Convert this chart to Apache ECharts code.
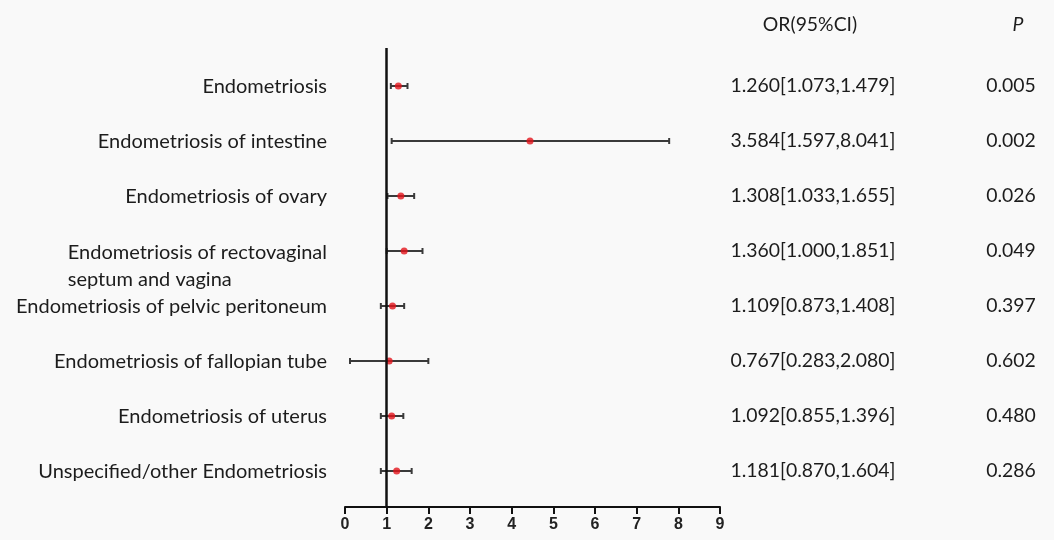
<!DOCTYPE html>
<html><head><meta charset="utf-8">
<script src="https://cdn.jsdelivr.net/npm/echarts@6/dist/echarts.min.js"></script>
<style>html,body{margin:0;padding:0;background:#f9f9f9}#c{width:1054px;height:540px}</style>
</head><body><div id="c"></div>
<script>
const categories = [
  'Endometriosis',
  'Endometriosis of intestine',
  'Endometriosis of ovary',
  'Endometriosis of rectovaginal\nseptum and vagina',
  'Endometriosis of pelvic peritoneum',
  'Endometriosis of fallopian tube',
  'Endometriosis of uterus',
  'Unspecified/other Endometriosis'
];
// values as drawn in the plot
const orPoint = [1.28, 4.44, 1.34, 1.42, 1.14, 1.06, 1.12, 1.24];
const ciLow   = [1.10, 1.12, 1.02, 1.00, 0.86, 0.12, 0.86, 0.86];
const ciHigh  = [1.50, 7.78, 1.66, 1.86, 1.42, 2.00, 1.40, 1.60];
const orText = [
  '1.260[1.073,1.479]', '3.584[1.597,8.041]', '1.308[1.033,1.655]', '1.360[1.000,1.851]',
  '1.109[0.873,1.408]', '0.767[0.283,2.080]', '1.092[0.855,1.396]', '1.181[0.870,1.604]'
];
const pText = ['0.005', '0.002', '0.026', '0.049', '0.397', '0.602', '0.480', '0.286'];
const xTickMin = 0, xTickMax = 9, xTickStep = 1;
const headerOR = 'OR(95%CI)';
const headerP = 'P';

const FONT = 'Lato, "Open Sans", sans-serif';
const LSIZE = 20;
const TSIZE = 19.4;
const TXT = '#1c1c1c';

const chart = echarts.init(document.getElementById('c'));

function measure(t, font) {
  const el = new echarts.graphic.Text({style: {text: t, font: font}});
  return el.getBoundingRect().width;
}

const option = {
  backgroundColor: '#f9f9f9',
  animation: false,
  grid: {left: 345, right: 334, top: 48, bottom: 33},
  xAxis: {
    type: 'value', min: xTickMin, max: xTickMax, interval: xTickStep,
    splitLine: {show: false},
    axisLine: {show: true, onZero: false, lineStyle: {color: '#111', width: 2}},
    axisTick: {show: true, length: 7, lineStyle: {color: '#111', width: 2}},
    axisLabel: {color: '#222', fontWeight: 'bold', fontSize: 16, margin: 10,
      fontFamily: '"Liberation Sans Narrow", "Liberation Sans", Arial, sans-serif'}
  },
  yAxis: {type: 'value', inverse: true, min: -0.691, max: 7.655, show: false},
  graphic: [
    {type: 'text', x: 810, y: 25, style: {text: headerOR, font: TSIZE + 'px ' + FONT, fill: TXT, align: 'center', verticalAlign: 'middle'}},
    {type: 'text', x: 1018, y: 25, style: {text: headerP, font: 'italic ' + TSIZE + 'px ' + FONT, fill: TXT, align: 'center', verticalAlign: 'middle'}}
  ],
  series: [
    {
      type: 'custom',
      z: 2,
      data: categories.map((c, i) => [ciLow[i], ciHigh[i], i]),
      encode: {x: [0, 1], y: 2},
      renderItem: function (params, api) {
        const i = api.value(2);
        const p1 = api.coord([api.value(0), i]);
        const p2 = api.coord([api.value(1), i]);
        const st = {stroke: '#3a3a3a', lineWidth: 2};
        return {type: 'group', children: [
          {type: 'line', shape: {x1: p1[0], y1: p1[1], x2: p2[0], y2: p2[1]}, style: st},
          {type: 'line', shape: {x1: p1[0], y1: p1[1] - 3, x2: p1[0], y2: p1[1] + 3}, style: st},
          {type: 'line', shape: {x1: p2[0], y1: p2[1] - 3, x2: p2[0], y2: p2[1] + 3}, style: st}
        ]};
      }
    },
    {
      type: 'scatter',
      z: 4,
      symbolSize: 7,
      itemStyle: {color: '#e3141c'},
      data: orPoint.map((v, i) => [v, i]),
      markLine: {
        silent: true, symbol: 'none', label: {show: false},
        lineStyle: {color: '#111', width: 2.5, type: 'solid'},
        data: [{xAxis: 1}]
      }
    },
    {
      type: 'custom',
      z: 5,
      clip: false,
      silent: true,
      data: categories.map((c, i) => [0, i]),
      encode: {x: 0, y: 1},
      renderItem: function (params, api) {
        const i = api.value(1);
        const p = api.coord([0, i]);
        const y = p[1];
        const xr = p[0] - 18;
        const lfont = LSIZE + 'px ' + FONT;
        const tfont = TSIZE + 'px ' + FONT;
        const kids = [];
        const lab = categories[i];
        if (lab.indexOf('\n') >= 0) {
          const parts = lab.split('\n');
          const w = measure(parts[0], lfont);
          kids.push({type: 'text', x: xr, y: y + 2, style: {text: parts[0], font: lfont, fill: TXT, align: 'right', verticalAlign: 'middle'}});
          kids.push({type: 'text', x: xr - w, y: y + 29, style: {text: parts[1], font: lfont, fill: TXT, align: 'left', verticalAlign: 'middle'}});
        } else {
          kids.push({type: 'text', x: xr, y: y + 1, style: {text: lab, font: lfont, fill: TXT, align: 'right', verticalAlign: 'middle'}});
        }
        kids.push({type: 'text', x: 813, y: y, style: {text: orText[i], font: tfont, fill: TXT, align: 'center', verticalAlign: 'middle'}});
        kids.push({type: 'text', x: 1011, y: y, style: {text: pText[i], font: tfont, fill: TXT, align: 'center', verticalAlign: 'middle'}});
        return {type: 'group', children: kids};
      }
    }
  ]
};
chart.setOption(option);
</script>
</body></html>
